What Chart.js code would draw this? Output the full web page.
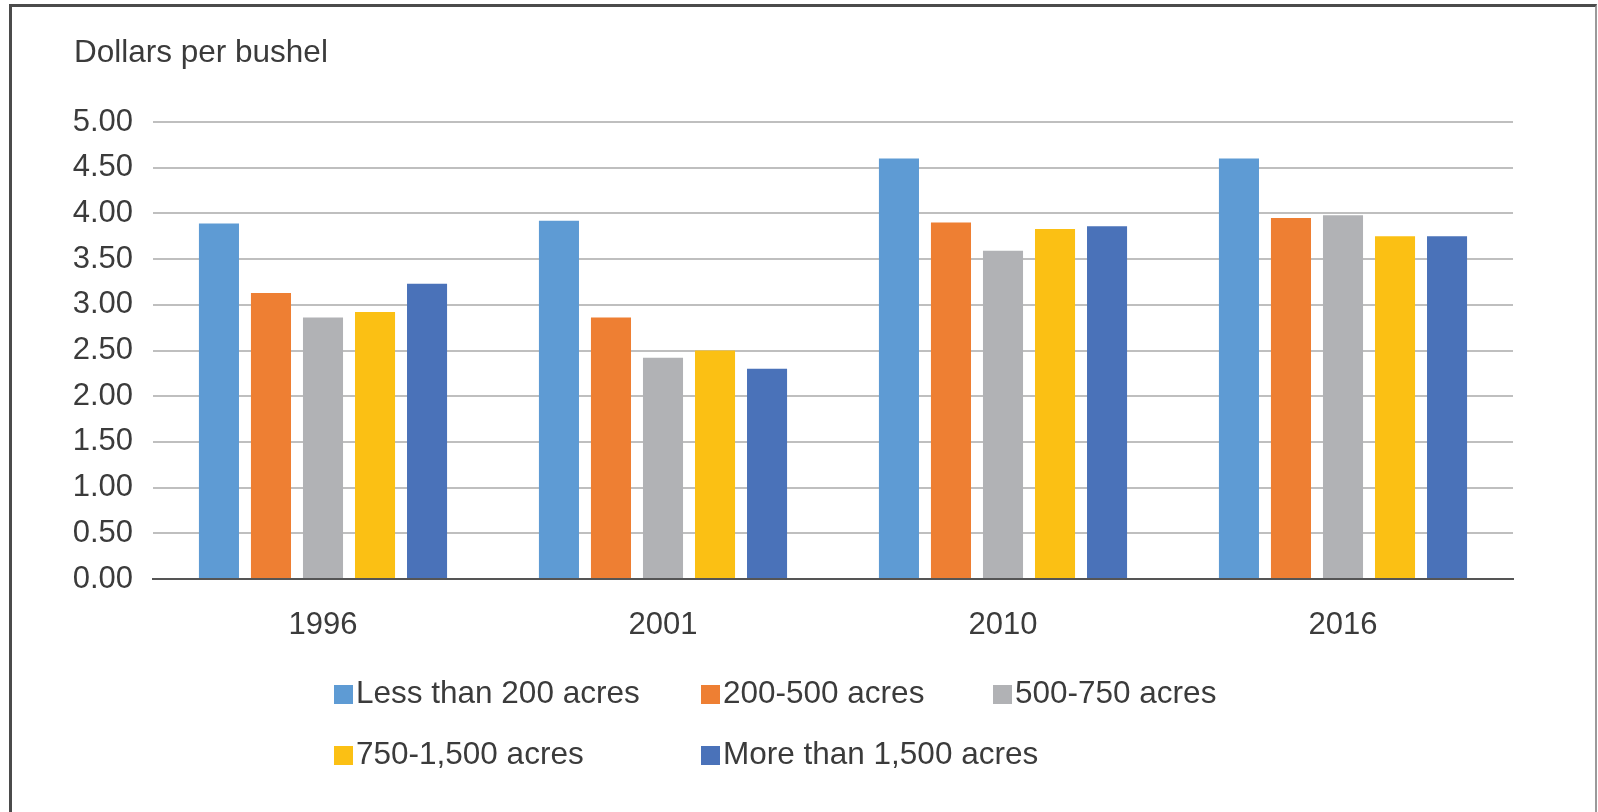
<!DOCTYPE html>
<html>
<head>
<meta charset="utf-8">
<script src="https://cdn.jsdelivr.net/npm/chart.js@4"></script>
<style>
  html, body { margin: 0; padding: 0; background: #fff; }
  body { width: 1598px; height: 812px; position: relative; overflow: hidden;
         font-family: "Liberation Sans", Arial, sans-serif; color: #3b3b3b; }
  #frame { position: absolute; left: 9px; top: 4px; width: 1583px; height: 900px;
           border: 3px solid #4b4b4b; border-right: 2px solid #9a9a9a; }
  #wrap { position: absolute; left: 0; top: 0; width: 1598px; height: 812px; }
  #ytitle { position: absolute; left: 74px; top: 33px; font-size: 31.5px; white-space: nowrap; }
  .leg { position: absolute; font-size: 31.5px; white-space: nowrap; line-height: 36px; }
  .leg i { display: inline-block; width: 19px; height: 19px; margin-right: 3px; vertical-align: -1px; }
</style>
</head>
<body>
<div id="frame"></div>
<div id="wrap"><canvas id="myChart" width="1598" height="812"></canvas></div>
<div id="ytitle">Dollars per bushel</div>
<div id="legend"></div>
<script>
'use strict';

// categories and series (dollars per bushel)
const years = ['1996', '2001', '2010', '2016'];
const lessThan200 = [3.89, 3.92, 4.60, 4.60];
const from200to500 = [3.13, 2.86, 3.90, 3.95];
const from500to750 = [2.86, 2.42, 3.59, 3.98];
const from750to1500 = [2.92, 2.50, 3.83, 3.75];
const moreThan1500 = [3.23, 2.30, 3.86, 3.75];

const seriesNames = ['Less than 200 acres', '200-500 acres', '500-750 acres',
                     '750-1,500 acres', 'More than 1,500 acres'];
const seriesColors = ['#5e9bd4', '#ee7f33', '#b1b2b5', '#fbc014', '#4a72b9'];
const seriesValues = [lessThan200, from200to500, from500to750, from750to1500, moreThan1500];

const ctx = document.getElementById('myChart');

new Chart(ctx, {
    type: 'bar',
    data: {
        labels: years,
        datasets: seriesValues.map((vals, i) => ({
            label: seriesNames[i],
            data: vals,
            backgroundColor: seriesColors[i],
            borderWidth: 0,
            categoryPercentage: 0.765,
            barPercentage: 0.77
        }))
    },
    options: {
        responsive: false,
        animation: false,
        layout: { padding: { top: 122, right: 85, left: 0, bottom: 0 } },
        plugins: {
            legend: { display: false },
            tooltip: { enabled: false }
        },
        scales: {
            x: {
                grid: { display: false, drawTicks: false },
                border: { display: true, color: '#555555', width: 2 },
                ticks: {
                    color: '#3b3b3b',
                    font: { family: 'Liberation Sans', size: 31 },
                    padding: 28,
                    maxRotation: 0
                },
                afterFit: (scale) => { scale.height = 233; }
            },
            y: {
                min: 0,
                max: 5,
                grid: { color: '#bfbfbf', lineWidth: 2, drawTicks: false },
                border: { display: false },
                ticks: {
                    stepSize: 0.5,
                    color: '#3b3b3b',
                    font: { family: 'Liberation Sans', size: 31 },
                    padding: 20,
                    callback: (v) => Number(v).toFixed(2)
                },
                afterFit: (scale) => { scale.width = 153; }
            }
        }
    }
});

// legend laid out in columns like the original
const legendPos = [[334, 674], [701, 674], [993, 674], [334, 735], [701, 735]];
const legend = document.getElementById('legend');
seriesNames.forEach((name, i) => {
    const d = document.createElement('div');
    d.className = 'leg';
    d.style.left = legendPos[i][0] + 'px';
    d.style.top = legendPos[i][1] + 'px';
    d.innerHTML = '<i style="background:' + seriesColors[i] + '"></i>' + name;
    legend.appendChild(d);
});
</script>
</body>
</html>
